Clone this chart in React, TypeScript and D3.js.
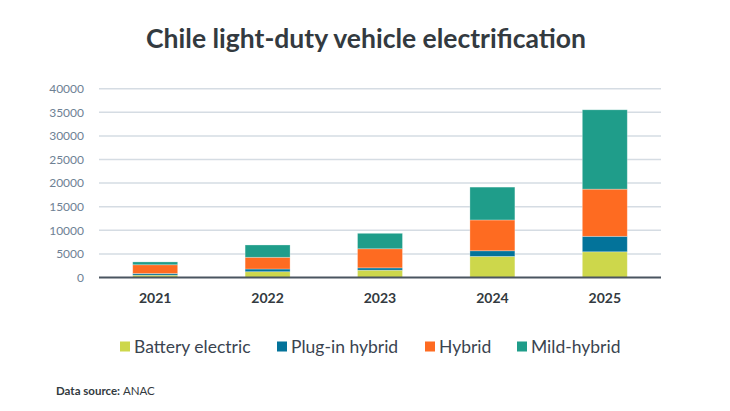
import React from "react";
import * as d3 from "d3";

const years = ["2021", "2022", "2023", "2024", "2025"];
const batteryElectric = [500, 1230, 1550, 4470, 5450];
const plugInHybrid = [350, 570, 490, 1190, 3270];
const hybrid = [1850, 2480, 4050, 6530, 10000];
const mildHybrid = [600, 2610, 3270, 6960, 16810];
const seriesNames = ["Battery electric", "Plug-in hybrid", "Hybrid", "Mild-hybrid"];
const seriesColors = ["#cdd74b", "#03739a", "#fe6b21", "#1f9d8a"];
const yTicks = [0, 5000, 10000, 15000, 20000, 25000, 30000, 35000, 40000];

const W = 730;
const H = 411;
const FONT = "Lato, 'Open Sans', sans-serif";

export default function App() {
  const left = 99;
  const right = 661;
  const top = 88.7;
  const bottom = 277.5;

  const x = d3.scaleBand<string>().domain(years).range([left, right]).paddingInner(0.6).paddingOuter(0.3);
  const y = d3.scaleLinear().domain([0, 40000]).range([bottom, top]);

  const rows = years.map((yr, i) => ({
    year: yr,
    s0: batteryElectric[i],
    s1: plugInHybrid[i],
    s2: hybrid[i],
    s3: mildHybrid[i],
  }));
  const keys = ["s0", "s1", "s2", "s3"];
  const stacked = d3.stack<any>().keys(keys)(rows);

  const legendX = [120, 277, 425, 517];

  return (
    <svg width={W} height={H} style={{ position: "absolute", left: 0, top: 0, background: "#fff" }} fontFamily={FONT}>
      <rect width={W} height={H} fill="#fff" />
      <text x={366} y={47.5} textAnchor="middle" fontSize={26.5} fontWeight={700} fill="#333a40">
        Chile light-duty vehicle electrification
      </text>
      {yTicks.map((t) => (
        <g key={t}>
          {t !== 0 && <line x1={left} x2={right} y1={y(t)} y2={y(t)} stroke="#d5dce3" strokeWidth={1.5} />}
          <text x={84} y={y(t)} dy="0.36em" textAnchor="end" fontSize={12} fill="#6e8194">
            {t}
          </text>
        </g>
      ))}
      {stacked.map((layer, li) => (
        <g key={li} fill={seriesColors[li]}>
          {layer.map((d, i) => (
            <rect
              key={i}
              x={x(years[i])}
              width={x.bandwidth()}
              y={y(d[1])}
              height={Math.max(0, y(d[0]) - y(d[1]))}
              stroke="rgba(255,255,255,0.35)"
              strokeWidth={0.8}
            />
          ))}
        </g>
      ))}
      <line x1={left} x2={right} y1={bottom} y2={bottom} stroke="#4a5560" strokeWidth={2} />
      {years.map((yr) => (
        <text key={yr} x={(x(yr) as number) + x.bandwidth() / 2} y={303} textAnchor="middle" fontSize={14} fontWeight={700} fill="#333a40">
          {yr}
        </text>
      ))}
      {seriesNames.map((n, i) => (
        <g key={n}>
          <rect x={legendX[i]} y={341.5} width={10} height={10} fill={seriesColors[i]} />
          <text x={legendX[i] + 14} y={353} fontSize={17.5} fill="#3a4450">
            {n}
          </text>
        </g>
      ))}
      <text x={56} y={395} fontSize={11.5} fill="#333a40">
        <tspan fontWeight={700}>Data source: </tspan>
        <tspan>ANAC</tspan>
      </text>
    </svg>
  );
}
